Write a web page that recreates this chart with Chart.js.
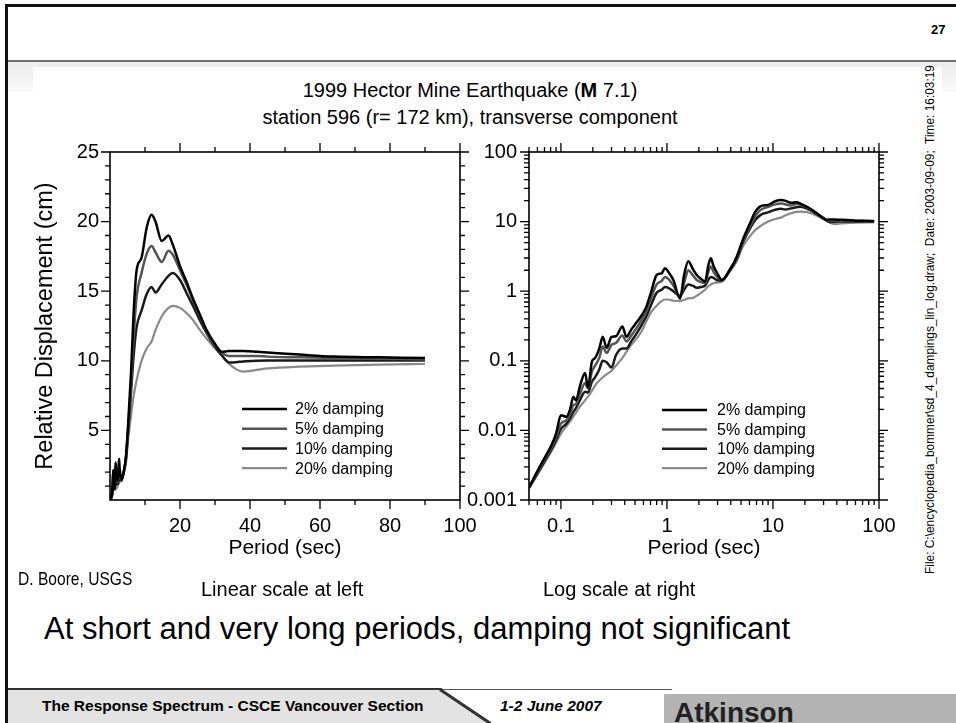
<!DOCTYPE html>
<html>
<head>
<meta charset="utf-8">
<script src="https://cdn.jsdelivr.net/npm/chart.js@4.4.0/dist/chart.umd.min.js"></script>
<style>
  html, body { margin: 0; padding: 0; background: #fff; }
  #slide { position: relative; width: 956px; height: 723px; overflow: hidden; background: #fff;
           font-family: "Liberation Sans", Arial, sans-serif; color: #000; }
  .abs { position: absolute; white-space: pre; }
  canvas { position: absolute; }
</style>
</head>
<body>
<div id="slide">
  <!-- slide frame and header -->
  <div class="abs" style="left:5px;top:4px;width:951px;height:3px;background:#111"></div>
  <div class="abs" style="left:5px;top:4px;width:3px;height:719px;background:#111"></div>
  <div class="abs" style="left:8px;top:60px;width:948px;height:2px;background:#6e6e6e"></div>
  <div class="abs" style="left:931px;top:22px;font-size:13px;font-weight:bold">27</div>
  <div class="abs" style="left:8px;top:62px;width:948px;height:30px;background:linear-gradient(#ececec,#fafafa)"></div>
  <div class="abs" style="left:33px;top:67px;width:909px;height:620px;background:#fff"></div>

  <!-- plot title -->
  <div class="abs" style="left:170px;top:79px;width:600px;text-align:center;font-size:20px">1999 Hector Mine Earthquake (<b>M</b> 7.1)</div>
  <div class="abs" style="left:170px;top:106px;width:600px;text-align:center;font-size:20px">station 596 (r= 172 km), transverse component</div>

  <!-- file stamp -->
  <div class="abs" style="left:680px;top:318px;width:500px;height:12px;line-height:12px;text-align:center;font-size:11.9px;transform:rotate(-90deg)">File: C:\encyclopedia_bommer\sd_4_dampings_lin_log.draw;  Date: 2003-09-09;  Time: 16:03:19</div>

  <canvas id="linChart" width="490" height="440" style="left:0px;top:130px"></canvas>
  <canvas id="logChart" width="516" height="440" style="left:440px;top:130px"></canvas>

  <!-- notes below the plots -->
  <div class="abs" style="left:18px;top:568px;font-size:19px;transform-origin:0 50%;transform:scaleX(0.82)">D. Boore, USGS</div>
  <div class="abs" style="left:201px;top:578px;font-size:20px">Linear scale at left</div>
  <div class="abs" style="left:543px;top:578px;font-size:20px">Log scale at right</div>
  <div class="abs" style="left:44px;top:611px;font-size:31px">At short and very long periods, damping not significant</div>

  <!-- footer -->
  <div class="abs" style="left:8px;top:690px;width:490px;height:33px;background:#e3e3e3;clip-path:polygon(0 0,432px 0,482px 33px,0 33px)"></div>
  <div class="abs" style="left:8px;top:688px;width:434px;height:2px;background:#333"></div>
  <div class="abs" style="left:440px;top:689px;width:232px;height:1px;background:#555"></div>
  <div class="abs" style="left:440px;top:688px;width:61px;height:3px;background:#333;transform-origin:0 50%;transform:rotate(34deg)"></div>
  <div class="abs" style="left:664px;top:694px;width:292px;height:29px;background:#b3b3b3"></div>
  <div class="abs" style="left:42px;top:697px;font-size:15.5px;font-weight:bold">The Response Spectrum - CSCE Vancouver Section</div>
  <div class="abs" style="left:500px;top:697px;font-size:15.5px;font-weight:bold;font-style:italic">1-2 June 2007</div>
  <div class="abs" style="left:674px;top:697px;font-size:28px;font-weight:bold;color:#222">Atkinson</div>
</div>

<script>
// ! periods (sec) shared by all four damping curves
const periods = [0.05, 0.06, 0.07, 0.08, 0.09, 0.1, 0.113, 0.122, 0.131, 0.139, 0.151, 0.169, 0.18, 0.196,
  0.21, 0.23, 0.248, 0.27, 0.3, 0.33, 0.38, 0.415, 0.46, 0.52, 0.58, 0.64, 0.71, 0.8, 0.89, 0.96,
  1.03, 1.15, 1.33, 1.45, 1.59, 1.75, 1.91, 2.1, 2.29, 2.45, 2.59, 2.75, 2.93, 3.3, 3.9, 4.55,
  5.2, 6.08, 6.7, 7.6, 9, 10.5, 11.9, 13, 14.8, 16.7, 18, 20, 22, 23.8, 25.7, 27.6, 30, 31.9,
  34, 36, 38, 42, 45, 54, 64, 77, 90];

// relative displacement (cm) for each damping
const damp2 = [0.0015, 0.0026, 0.004, 0.0058, 0.009, 0.0165, 0.0157, 0.02, 0.0305, 0.027, 0.043, 0.067, 0.041, 0.097,
  0.11, 0.15, 0.222, 0.153, 0.22, 0.225, 0.31, 0.22, 0.28, 0.36, 0.455, 0.6, 0.98, 1.71, 1.81, 2.13,
  1.9, 1.45, 0.78, 1.7, 2.7, 2.1, 1.71, 1.5, 1.37, 2.3, 2.97, 2.3, 1.9, 1.45, 2.0, 3.13,
  5.5, 9.5, 13.2, 16.5, 17.4, 19.6, 20.5, 20.0, 18.6, 19.0, 18.3, 16.8, 15.6, 14.4, 13.3, 12.2, 11.2, 10.65,
  10.7, 10.7, 10.7, 10.65, 10.6, 10.45, 10.3, 10.25, 10.2];
const damp5 = [0.0015, 0.0025, 0.0038, 0.0054, 0.008, 0.0125, 0.014, 0.017, 0.023, 0.024, 0.033, 0.048, 0.04, 0.07,
  0.085, 0.11, 0.16, 0.13, 0.17, 0.18, 0.23, 0.19, 0.23, 0.3, 0.39, 0.52, 0.8, 1.25, 1.4, 1.6,
  1.5, 1.2, 0.82, 1.3, 2.0, 1.7, 1.45, 1.35, 1.3, 1.85, 2.26, 1.9, 1.65, 1.45, 2.0, 3.0,
  5.2, 8.6, 11.5, 14.6, 16.3, 17.7, 18.25, 17.8, 17.1, 17.9, 17.6, 16.5, 15.4, 14.3, 13.2, 12.15, 11.1, 10.6,
  10.35, 10.35, 10.35, 10.35, 10.3, 10.25, 10.2, 10.15, 10.1];
const damp10 = [0.0015, 0.0024, 0.0036, 0.0051, 0.0073, 0.0105, 0.0125, 0.015, 0.0185, 0.021, 0.027, 0.036, 0.035, 0.05,
  0.058, 0.075, 0.1, 0.095, 0.08, 0.12, 0.15, 0.15, 0.19, 0.25, 0.33, 0.44, 0.64, 0.95, 1.05, 1.15,
  1.12, 1.0, 0.86, 1.05, 1.25, 1.2, 1.12, 1.15, 1.2, 1.45, 1.6, 1.55, 1.45, 1.42, 2.0, 2.9,
  5.0, 8.0, 10.2, 12.4, 13.6, 14.8, 15.3, 14.9, 15.5, 16.1, 16.3, 15.8, 14.8, 13.9, 12.9, 12.0, 11.0, 10.4,
  9.88, 9.9, 9.95, 10.0, 10.02, 10.03, 10.03, 10.03, 10.03];
const damp20 = [0.0015, 0.0023, 0.0034, 0.0048, 0.0066, 0.009, 0.0115, 0.0135, 0.0158, 0.018, 0.022, 0.027, 0.0305, 0.037,
  0.044, 0.052, 0.058, 0.064, 0.072, 0.085, 0.11, 0.135, 0.17, 0.21, 0.27, 0.37, 0.5, 0.62, 0.72, 0.76,
  0.76, 0.73, 0.72, 0.75, 0.79, 0.8, 0.86, 0.95, 1.05, 1.18, 1.25, 1.3, 1.33, 1.38, 1.9, 2.7,
  4.4, 6.2, 7.4, 8.6, 10.0, 10.9, 11.4, 12.2, 13.2, 13.8, 13.95, 13.8, 13.4, 12.9, 12.2, 11.6, 10.9, 10.4,
  9.8, 9.4, 9.22, 9.35, 9.45, 9.58, 9.65, 9.72, 9.77];

const seriesLabels = ["2% damping", "5% damping", "10% damping", "20% damping"];
const seriesValues = [damp2, damp5, damp10, damp20];
const seriesColors = ["#000000", "#555555", "#1a1a1a", "#8a8a8a"];

// ! tick values and labels
const linXTicks = [20, 40, 60, 80, 100];
const linXLabels = ["20", "40", "60", "80", "100"];
const linXMinor = [10, 30, 50, 70, 90];
const linYTicks = [5, 10, 15, 20, 25];
const linYLabels = ["5", "10", "15", "20", "25"];
const linYMinor = [1, 2, 3, 4, 6, 7, 8, 9, 11, 12, 13, 14, 16, 17, 18, 19, 21, 22, 23, 24];
const logXTicks = [0.1, 1, 10, 100];
const logXLabels = ["0.1", "1", "10", "100"];
const logYTicks = [0.001, 0.01, 0.1, 1, 10, 100];
const logYLabels = ["0.001", "0.01", "0.1", "1", "10", "100"];

function logMinor(lo, hi) {
  const out = [];
  for (let e = -4; e <= 2; e++) {
    for (let m = 2; m <= 9; m++) {
      const v = m * Math.pow(10, e);
      if (v >= lo * 0.999 && v <= hi * 1.001) out.push(v);
    }
  }
  return out;
}

Chart.defaults.font.family = "'Liberation Sans', Arial, sans-serif";
Chart.defaults.color = "#000";

// draws the box round the plot and the outward tick marks on all four sides
const framePlugin = {
  id: "frame",
  afterDraw(chart, args, opts) {
    const { ctx, chartArea: a } = chart;
    const xs = chart.scales.x, ys = chart.scales.y;
    ctx.save();
    ctx.strokeStyle = "#000";
    ctx.lineWidth = 1.6;
    ctx.strokeRect(a.left, a.top, a.right - a.left, a.bottom - a.top);
    ctx.lineWidth = 1.3;
    ctx.beginPath();
    const xMark = (v, len) => {
      const p = xs.getPixelForValue(v);
      ctx.moveTo(p, a.bottom); ctx.lineTo(p, a.bottom + len);
      ctx.moveTo(p, a.top); ctx.lineTo(p, a.top - len);
    };
    const yMark = (v, len) => {
      const p = ys.getPixelForValue(v);
      ctx.moveTo(a.left, p); ctx.lineTo(a.left - len, p);
      ctx.moveTo(a.right, p); ctx.lineTo(a.right + len, p);
    };
    opts.xMajor.forEach(v => xMark(v, 9));
    opts.xMinor.forEach(v => xMark(v, 5));
    opts.yMajor.forEach(v => yMark(v, 9));
    opts.yMinor.forEach(v => yMark(v, 5));
    ctx.stroke();
    ctx.restore();
  }
};

// legend inside the plot, lower right
const boxLegend = {
  id: "boxLegend",
  afterDraw(chart, args, opts) {
    const { ctx, chartArea: a } = chart;
    ctx.save();
    ctx.font = "16px 'Liberation Sans', Arial, sans-serif";
    ctx.textBaseline = "middle";
    ctx.fillStyle = "#000";
    chart.data.datasets.forEach((ds, i) => {
      const y = a.top + opts.rowTop + i * opts.rowGap;
      ctx.strokeStyle = ds.borderColor;
      ctx.lineWidth = ds.borderWidth;
      ctx.beginPath();
      ctx.moveTo(a.left + opts.lineFrom, y);
      ctx.lineTo(a.left + opts.lineTo, y);
      ctx.stroke();
      ctx.fillText(ds.label, a.left + opts.textAt, y + 1);
    });
    ctx.restore();
  }
};

function makeDatasets() {
  return seriesLabels.map((label, i) => ({
    label,
    data: periods.map((t, j) => ({ x: t, y: seriesValues[i][j] })),
    borderColor: seriesColors[i],
    borderWidth: i === 3 ? 2.2 : 2.5,
    pointRadius: 0,
    cubicInterpolationMode: "monotone",
    fill: false
  }));
}

function axisTitle(text, size, pad) {
  return { display: true, text, font: { size }, padding: pad };
}

const hiddenGrid = { display: true, drawOnChartArea: false, drawTicks: true, tickLength: 9, color: "rgba(0,0,0,0)" };

// ! left chart: linear scale
new Chart(document.getElementById("linChart"), {
  type: "line",
  data: { datasets: makeDatasets() },
  plugins: [framePlugin, boxLegend],
  options: {
    responsive: false,
    animation: false,
    devicePixelRatio: 1,
    layout: { padding: { left: 10, top: 22, right: 30, bottom: 8 } },
    plugins: {
      legend: { display: false },
      tooltip: { enabled: false },
      frame: { xMajor: linXTicks, xMinor: linXMinor, yMajor: linYTicks, yMinor: linYMinor },
      boxLegend: { rowTop: 257, rowGap: 19.7, lineFrom: 132, lineTo: 177, textAt: 185 }
    },
    scales: {
      x: {
        type: "linear", min: 0, max: 100,
        grid: hiddenGrid, border: { display: false },
        afterBuildTicks: (axis) => { axis.ticks = linXTicks.map(v => ({ value: v })); },
        afterFit: (axis) => { axis.height = 62; },
        ticks: { autoSkip: false, maxRotation: 0, padding: 5, font: { size: 20 }, callback: (v, i) => linXLabels[i] },
        title: axisTitle("Period (sec)", 21, { top: 0, bottom: 1 })
      },
      y: {
        type: "linear", min: 0, max: 25,
        grid: hiddenGrid, border: { display: false },
        afterBuildTicks: (axis) => { axis.ticks = linYTicks.map(v => ({ value: v })); },
        afterFit: (axis) => { axis.width = 100; },
        ticks: { autoSkip: false, padding: 2, font: { size: 20 }, callback: (v, i) => linYLabels[i] },
        title: axisTitle("Relative Displacement (cm)", 23.5, { top: 21, bottom: 0 })
      }
    }
  }
});

// ! right chart: log scale
new Chart(document.getElementById("logChart"), {
  type: "line",
  data: { datasets: makeDatasets() },
  plugins: [framePlugin, boxLegend],
  options: {
    responsive: false,
    animation: false,
    devicePixelRatio: 1,
    layout: { padding: { left: 0, top: 22, right: 77, bottom: 8 } },
    plugins: {
      legend: { display: false },
      tooltip: { enabled: false },
      frame: { xMajor: logXTicks, xMinor: logMinor(0.05, 100), yMajor: logYTicks, yMinor: logMinor(0.001, 100) },
      boxLegend: { rowTop: 258, rowGap: 19.4, lineFrom: 133, lineTo: 178, textAt: 188 }
    },
    scales: {
      x: {
        type: "logarithmic", min: 0.05, max: 100,
        grid: hiddenGrid, border: { display: false },
        afterBuildTicks: (axis) => { axis.ticks = logXTicks.map(v => ({ value: v })); },
        afterFit: (axis) => { axis.height = 62; },
        ticks: { autoSkip: false, maxRotation: 0, padding: 5, font: { size: 20 }, callback: (v, i) => logXLabels[i] },
        title: axisTitle("Period (sec)", 21, { top: 0, bottom: 1 })
      },
      y: {
        type: "logarithmic", min: 0.001, max: 100,
        grid: hiddenGrid, border: { display: false },
        afterBuildTicks: (axis) => { axis.ticks = logYTicks.map(v => ({ value: v })); },
        afterFit: (axis) => { axis.width = 89; },
        ticks: { autoSkip: false, padding: 3, font: { size: 20 }, callback: (v, i) => logYLabels[i] }
      }
    }
  }
});
</script>
</body>
</html>
